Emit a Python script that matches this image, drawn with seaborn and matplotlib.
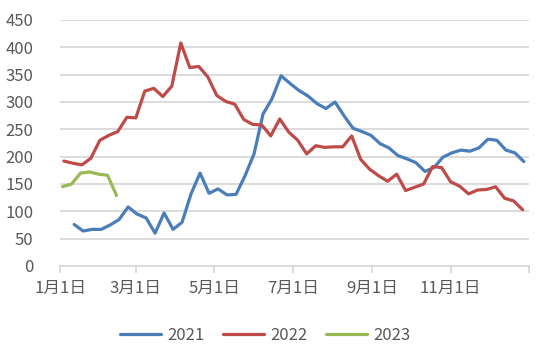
import matplotlib
matplotlib.use("Agg")
import matplotlib.pyplot as plt
import seaborn as sns
import pandas as pd
import numpy as np

# ---- data (weekly observations, plotted on a common calendar year) ----
series_names = ["2021", "2022", "2023"]
start_days = ["01-12", "01-04", "01-03"]   # month-day of first weekly observation

values_2021 = [76, 64, 67, 67, 75, 85, 108, 95, 88, 60, 97, 67, 80, 132, 170, 133,
               141, 130, 131, 165, 205, 278, 306, 348, 334, 321, 311, 297, 288, 300,
               275, 252, 246, 239, 224, 216, 202, 196, 189, 173, 180, 199, 207, 212,
               210, 216, 232, 230, 212, 207, 191]
values_2022 = [192, 188, 185, 197, 230, 239, 246, 272, 271, 320, 325, 310, 329, 408,
               363, 365, 346, 312, 301, 296, 268, 259, 258, 238, 269, 245, 230, 205,
               220, 217, 218, 218, 238, 195, 177, 165, 155, 168, 138, 144, 150, 182,
               180, 154, 146, 132, 139, 140, 145, 124, 119, 103]
values_2023 = [145, 150, 170, 172, 168, 166, 129]

tick_dates = ["01-01", "03-01", "05-01", "07-01", "09-01", "11-01"]
tick_labels = ["1月1日", "3月1日", "5月1日", "7月1日", "9月1日", "11月1日"]
y_ticks = [0, 50, 100, 150, 200, 250, 300, 350, 400, 450]
colors = ["#4A7EBB", "#BE4B48", "#98B954"]

BASE_YEAR = 2021  # common year used to overlay all series

frames = []
for name, start, vals in zip(series_names, start_days,
                             [values_2021, values_2022, values_2023]):
    dates = pd.date_range(f"{BASE_YEAR}-{start}", periods=len(vals), freq="7D")
    frames.append(pd.DataFrame({"date": dates, "value": vals, "year": name}))
df = pd.concat(frames, ignore_index=True)

sns.set_theme(style="white")
plt.rcParams["font.family"] = ["Noto Sans CJK SC", "DejaVu Sans"]

W, H = 550, 364
fig = plt.figure(figsize=(W / 100, H / 100), dpi=100)
ax = fig.add_axes([60 / W, (H - 266) / H, 469 / W, 246 / H])

sns.lineplot(data=df, x="date", y="value", hue="year", palette=colors,
             linewidth=2.3, ax=ax, legend=True)

txt_color = "#595959"
grid_color = "#D9D9D9"
fs = 12

ax.set_ylim(0, 450)
ax.set_yticks(y_ticks)
ax.set_yticklabels([str(v) for v in y_ticks])
ax.set_xlim(pd.Timestamp(f"{BASE_YEAR}-01-01"), pd.Timestamp(f"{BASE_YEAR + 1}-01-01"))
xt = [pd.Timestamp(f"{BASE_YEAR}-{d}") for d in tick_dates] + [pd.Timestamp(f"{BASE_YEAR + 1}-01-01")]
ax.set_xticks(xt)
ax.set_xticklabels(tick_labels + [""])

ax.yaxis.grid(True, color=grid_color, linewidth=1.3)
ax.xaxis.grid(False)
ax.set_axisbelow(True)
for s in ["top", "right", "left"]:
    ax.spines[s].set_visible(False)
ax.spines["bottom"].set_color(grid_color)
ax.spines["bottom"].set_linewidth(1.3)
ax.tick_params(axis="x", which="major", bottom=True, length=5, width=1.3,
               color=grid_color, labelsize=fs, labelcolor=txt_color, pad=5)
ax.tick_params(axis="y", left=False, labelsize=fs, labelcolor=txt_color, pad=13)
ax.set_xlabel("")
ax.set_ylabel("")

handles, labels = ax.get_legend_handles_labels()
ax.legend(handles, labels, loc="center", bbox_to_anchor=(265 / W, 1 - 335 / H),
          bbox_transform=fig.transFigure, ncol=3, frameon=False,
          fontsize=fs, labelcolor=txt_color, handlelength=2.5,
          handletextpad=0.35, columnspacing=1.1)

fig.savefig("out.png", dpi=100)
